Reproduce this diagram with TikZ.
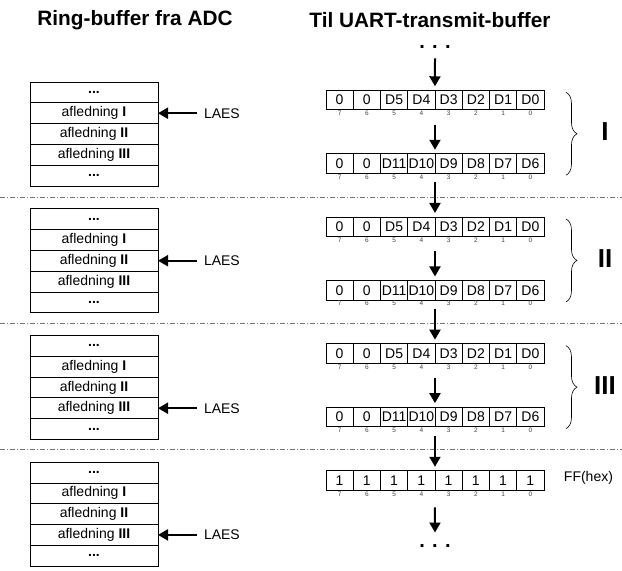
\documentclass[tikz,border=0pt]{standalone}
\usepackage{fontspec}
\setmainfont{Liberation Sans}
\usetikzlibrary{arrows.meta,positioning,decorations.pathreplacing}
\newcommand{\fsz}[1]{\fontsize{#1}{#1}\selectfont}

\begin{document}
\begin{tikzpicture}[
  x=1pt, y=-1pt,
  every node/.style={inner sep=0pt, outer sep=0pt},
  hdr/.style={font=\fsz{20.8}\bfseries},
  bufcell/.style={draw, line width=0.8pt, minimum width=128pt,
                  minimum height=20.8pt, font=\fsz{14}},
  bitcell/.style={draw, line width=0.8pt, minimum width=27.25pt,
                  minimum height=19.5pt, font=\fsz{14}},
  bitnum/.style={font=\fsz{6.5}, text=black!75},
  laes/.style={font=\fsz{14}},
  seclabel/.style={font=\fsz{26}\bfseries},
  more/.style={font=\fsz{20}\bfseries},
  flow/.style={-{Triangle[length=10pt,width=11pt]}, line width=2pt},
  cutline/.style={black!55, line width=0.7pt,
                  dash pattern=on 5pt off 2pt on 1pt off 2pt},
  brc/.style={decorate, decoration={brace, amplitude=11pt}, line width=0.6pt}
]
  \useasboundingbox (0,0) rectangle (622,571);

  \node[hdr] (ringtitle) at (135,20) {Ring-buffer fra ADC};
  \node[hdr] (uarttitle) at (430,20) {Til UART-transmit-buffer};

  \foreach \y in {197,323,449.5}
    \draw[cutline] (0,\y) -- (622,\y);

  \foreach \s/\yy/\ptr in {1/82/2, 2/208.7/3, 3/335.4/4, 4/462.1/4} {
    \node[bufcell] (buf\s-1) at (94,\yy+10.4) {\textbf{...}};
    \node[bufcell, below=0pt of buf\s-1] (buf\s-2) {afledning \textbf{I}};
    \node[bufcell, below=0pt of buf\s-2] (buf\s-3) {afledning \textbf{II}};
    \node[bufcell, below=0pt of buf\s-3] (buf\s-4) {afledning \textbf{III}};
    \node[bufcell, below=0pt of buf\s-4] (buf\s-5) {\textbf{...}};
    \node[laes, right=46pt of buf\s-\ptr] (laes\s) {LAES};
    \draw[flow] ([xshift=-7pt]laes\s.west) -- (buf\s-\ptr.east);
  }

  \node[more] (topdots) at (435,47) {. . .};

  \foreach \s/\yy/\num in {1/100/I, 2/226.7/II, 3/353.4/III} {
    \foreach \t [count=\j from 0] in {0,0,D5,D4,D3,D2,D1,D0} {
      \pgfmathtruncatemacro\bit{7-\j}
      \node[bitcell] (lo\s-\j) at ({339.6+27.25*\j},\yy) {\t};
      \node[bitnum, below=1.5pt of lo\s-\j] (lo\s-\j-n) {\bit};
    }
    \foreach \t [count=\j from 0] in {0,0,D11,D10,D9,D8,D7,D6} {
      \pgfmathtruncatemacro\bit{7-\j}
      \node[bitcell] (hi\s-\j) at ({339.6+27.25*\j},\yy+63.5) {\t};
      \node[bitnum, below=1.5pt of hi\s-\j] (hi\s-\j-n) {\bit};
    }
    \draw[flow] ([yshift=-15pt]lo\s-4.south west) -- ([yshift=4pt]hi\s-4.north west);
    \draw[brc] ([xshift=22pt,yshift=-2pt]lo\s-7.north east)
            -- ([xshift=22pt,yshift=-2pt]hi\s-7.south east);
    \node[seclabel] (sec\s) at (605,\yy+32) {\num};
  }

  \foreach \j in {0,...,7} {
    \pgfmathtruncatemacro\bit{7-\j}
    \node[bitcell] (ff-\j) at ({339.6+27.25*\j},480.5) {1};
    \node[bitnum, below=1.5pt of ff-\j] (ff-\j-n) {\bit};
  }
  \node[laes, right=20pt of ff-7, yshift=3pt] (ffhex) {FF(hex)};
  \node[more] (botdots) at (435,546) {. . .};

  \draw[flow] ([yshift=-10pt]topdots.south) -- ([yshift=4pt]lo1-4.north west);
  \draw[flow] ([yshift=-9pt]hi1-4.south west) -- ([yshift=4pt]lo2-4.north west);
  \draw[flow] ([yshift=-9pt]hi2-4.south west) -- ([yshift=4pt]lo3-4.north west);
  \draw[flow] ([yshift=-9pt]hi3-4.south west) -- ([yshift=4pt]ff-4.north west);
  \draw[flow] ([yshift=-17pt]ff-4.south west) -- ([yshift=12pt]botdots.north);
\end{tikzpicture}
\end{document}
